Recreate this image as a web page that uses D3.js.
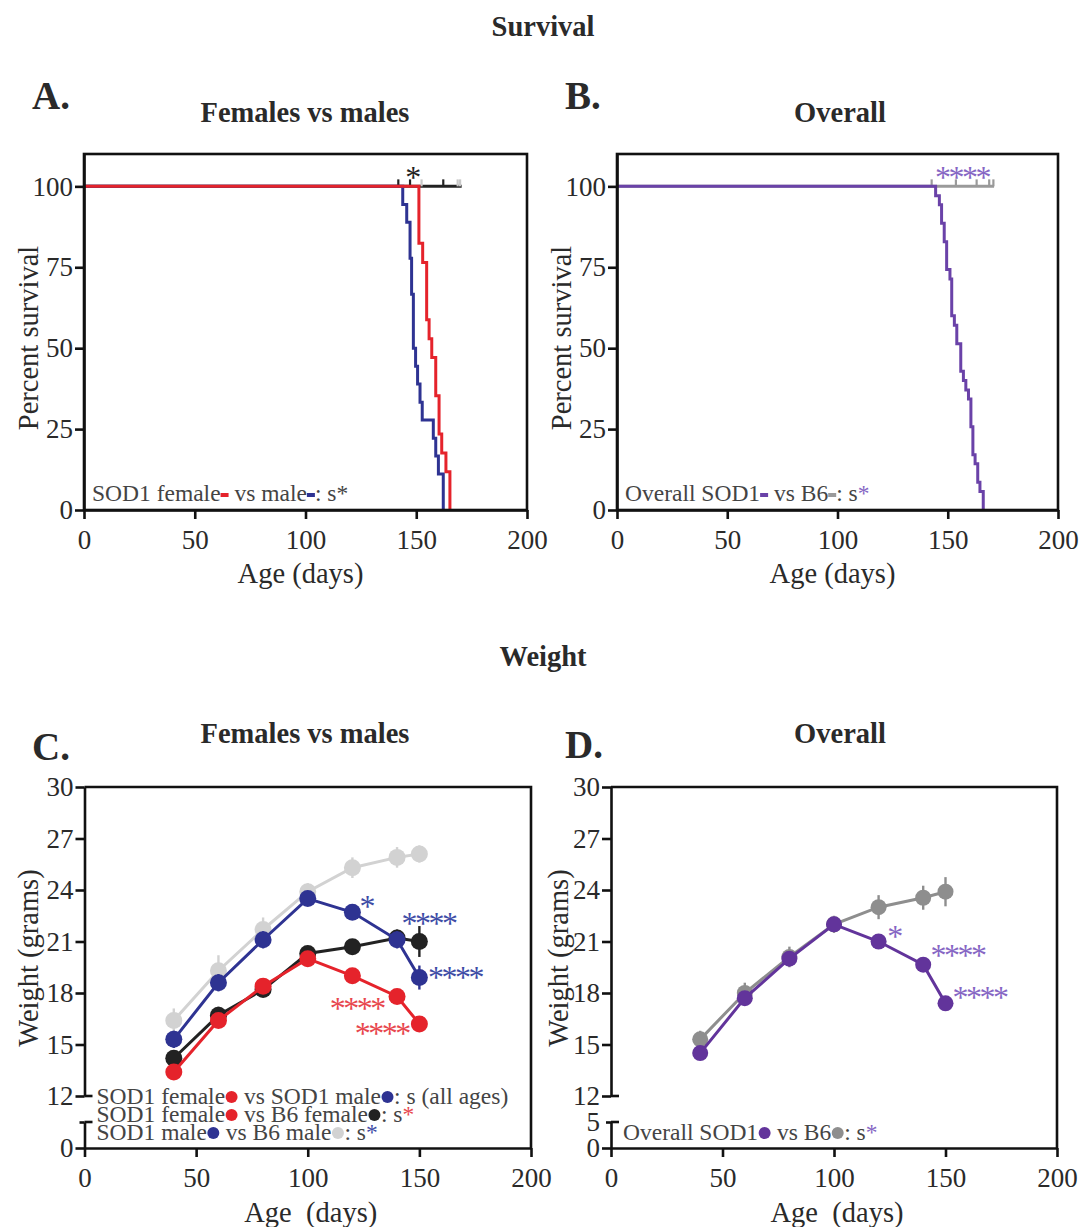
<!DOCTYPE html>
<html><head><meta charset="utf-8">
<script src="https://cdn.jsdelivr.net/npm/d3@7"></script>
<style>
body{margin:0;background:#fff}
svg text{font-family:"Liberation Serif","Times New Roman",serif}
</style>
</head><body>
<svg id="c" width="1085" height="1227" xmlns="http://www.w3.org/2000/svg"></svg>
<script>
// ---------------- DATA ----------------
const survXTicks = [0, 50, 100, 150, 200];
const survYTicks = [0, 25, 50, 75, 100];

// Panel A: Kaplan-Meier steps (day of drop, percent after drop)
const sod1FemaleSurvDays = [151.2, 152.9, 154.7, 155.8, 157.0, 158.8, 160.3, 161.5, 163.4, 165.2];
const sod1FemaleSurvPct  = [82.4, 76.5, 58.8, 52.9, 47.1, 35.3, 23.5, 17.6, 11.8, 0];
const sod1MaleSurvDays = [143.9, 145.7, 147.2, 147.9, 148.7, 149.7, 150.6, 151.7, 152.7, 157.7, 158.8, 160.0, 162.2];
const sod1MaleSurvPct  = [94.4, 88.9, 77.8, 66.7, 50.0, 44.4, 38.9, 33.3, 27.8, 22.2, 16.7, 11.1, 0];
const b6FemaleCensorDays = [141.9, 147.2, 162.2];
const b6MaleCensorDays = [152.4, 168.7, 169.8];
const b6SurvEndDay = 170.5;

// Panel B
const sod1OverallSurvDays = [144.5, 146.2, 147.2, 148.4, 149.5, 151.0, 151.8, 153.0, 154.1, 155.9, 157.1, 158.2, 159.4, 160.5, 161.4, 162.4, 163.6, 164.6, 166.1];
const sod1OverallSurvPct  = [97.1, 94.3, 88.6, 82.9, 74.3, 71.4, 60.0, 57.1, 51.4, 42.9, 40.0, 37.1, 34.3, 25.7, 17.1, 14.3, 8.6, 5.7, 0];
const b6OverallCensorDays = [142.7, 153.7, 163.1, 168.8, 170.7];
const b6OverallEndDay = 171.0;

// Weight
const weightDays = [40, 60, 80, 100, 120, 140, 150];
const weightXTicks = [0, 50, 100, 150, 200];
const weightYTicksUpper = [12, 15, 18, 21, 24, 27, 30];
const weightYTicksLower = [0, 5];

const b6MaleWeight   = [16.4, 19.3, 21.7, 23.9, 25.3, 25.9, 26.1];
const b6MaleErr      = [0.7, 0.9, 0.7, 0.5, 0.6, 0.6, 0.5];
const sod1MaleWeight = [15.3, 18.6, 21.1, 23.5, 22.7, 21.1, 18.9];
const sod1MaleErr    = [0.5, 0.5, 0.5, 0.4, 0.4, 0.5, 0.7];
const b6FemaleWeight = [14.2, 16.7, 18.2, 20.3, 20.7, 21.2, 21.0];
const b6FemaleErr    = [0.4, 0.5, 0.4, 0.4, 0.4, 0.5, 0.9];
const sod1FemaleWeight = [13.4, 16.4, 18.4, 20.0, 19.0, 17.8, 16.2];
const sod1FemaleErr    = [0.4, 0.4, 0.4, 0.4, 0.4, 0.4, 0.4];

const sod1OverallWeight = [14.5, 17.7, 20.0, 22.0, 21.0, 19.65, 17.4];
const sod1OverallErr    = [0.3, 0.3, 0.3, 0.3, 0.3, 0.4, 0.4];
const b6OverallWeight   = [15.3, 18.0, 20.1, 22.0, 23.0, 23.55, 23.9];
const b6OverallErr      = [0.5, 0.6, 0.6, 0.5, 0.7, 0.7, 0.85];

// ---------------- COLORS ----------------
const RED = "#e5232b", BLUE = "#2e3392", BLACK = "#222222", LGREY = "#d2d2d2",
      PURPLE = "#62349b", PURPLE_LINE = "#6a42a8", GREY = "#8e8e8e",
      STAR_RED = "#e8474e", STAR_BLUE = "#3e4ca6", STAR_PURPLE = "#8666c4",
      TXT = "#2a2a2a", LEG = "#444444";

const TICK_FS = 27, TITLE_FS = 28.5, HEAD_FS = 28.5, LEG_FS = 23.5, STAR_FS = 32;

const svg = d3.select("#c");

function text(g, x, y, s, o = {}) {
  const t = g.append("text").attr("x", x).attr("y", y).text(s)
    .attr("font-size", o.size || 26).attr("fill", o.fill || TXT)
    .attr("text-anchor", o.anchor || "start")
    .attr("font-weight", o.bold ? "bold" : "normal")
    .attr("xml:space", "preserve").style("white-space", "pre");
  if (o.ls !== undefined) t.attr("letter-spacing", o.ls);
  if (o.rotate) t.attr("transform", `rotate(${o.rotate},${x},${y})`);
  return t;
}

function star(g, x, y, s, color) {
  // x,y = visual centre of the asterisk group
  return text(g, x, y + 17, s, { size: STAR_FS, fill: color, anchor: "middle", ls: -2.5 });
}

function legend(g, x, y, parts, size) {
  let cx = x;
  parts.forEach(p => {
    if (p.t !== undefined) {
      const t = text(g, cx, y, p.t, { size, fill: p.c || LEG });
      cx += t.node().getComputedTextLength();
    } else if (p.dot) {
      g.append("circle").attr("cx", cx + 6.5).attr("cy", y - 7).attr("r", 6).attr("fill", p.dot);
      cx += 13;
    } else if (p.dash) {
      g.append("rect").attr("x", cx).attr("y", y - 8).attr("width", 8).attr("height", 4).attr("fill", p.dash);
      cx += 8;
    }
  });
}

function styleAxis(sel) {
  sel.selectAll("path.domain").attr("stroke", "#111").attr("stroke-width", 2.6);
  sel.selectAll(".tick line").attr("stroke", "#111").attr("stroke-width", 2.6);
  sel.selectAll(".tick text").attr("font-size", TICK_FS).attr("fill", TXT)
     .attr("font-family", '"Liberation Serif","Times New Roman",serif');
}

// ---------------- SURVIVAL PANELS ----------------
function survivalPanel(cfg) {
  const g = svg.append("g");
  const x = d3.scaleLinear().domain([0, 200]).range([cfg.x0, cfg.x1]);
  const y = d3.scaleLinear().domain([0, 110]).range([cfg.yBot, cfg.yTop]);

  cfg.refLines.forEach(r => {
    g.append("line").attr("x1", x(0)).attr("x2", x(r.end)).attr("y1", y(100)).attr("y2", y(100))
      .attr("stroke", r.color).attr("stroke-width", 3);
    r.ticks.forEach(d => g.append("line").attr("x1", x(d)).attr("x2", x(d))
      .attr("y1", y(100)).attr("y2", y(100) - 7).attr("stroke", r.tickColor || r.color).attr("stroke-width", 2.2));
  });
  const line = d3.line().x(d => x(d[0])).y(d => y(d[1])).curve(d3.curveStepAfter);
  cfg.curves.forEach(c => {
    const pts = [[0, 100]].concat(c.days.map((d, i) => [d, c.pct[i]]));
    g.append("path").attr("d", line(pts)).attr("fill", "none").attr("stroke", c.color)
      .attr("stroke-width", 3).attr("stroke-linejoin", "miter");
  });

  g.append("rect").attr("x", cfg.x0).attr("y", cfg.yTop).attr("width", cfg.x1 - cfg.x0)
    .attr("height", cfg.yBot - cfg.yTop).attr("fill", "none").attr("stroke", "#111").attr("stroke-width", 2.6);

  const xa = g.append("g").attr("transform", `translate(0,${cfg.yBot})`)
    .call(d3.axisBottom(x).tickValues(survXTicks).tickSize(9).tickSizeOuter(0).tickPadding(11));
  styleAxis(xa);
  const ya = g.append("g").attr("transform", `translate(${cfg.x0},0)`)
    .call(d3.axisLeft(y).tickValues(survYTicks).tickSize(9).tickSizeOuter(0).tickPadding(2));
  styleAxis(ya);

  star(g, x(cfg.star.day), y(cfg.star.pct), cfg.star.text, cfg.star.color);

  text(g, (cfg.x0 + cfg.x1) / 2 - 5, cfg.yBot + 73, "Age (days)", { size: TITLE_FS, anchor: "middle" });
  text(g, cfg.yLabelX, (cfg.yTop + cfg.yBot) / 2 + 6, "Percent survival", { size: TITLE_FS, anchor: "middle", rotate: -90 });

  legend(g, cfg.x0 + 8, cfg.yBot - 9, cfg.legend, LEG_FS);
}

survivalPanel({
  x0: 84, x1: 527, yTop: 154, yBot: 510, yLabelX: 38,
  refLines: [
    { end: b6SurvEndDay, color: "#222", ticks: b6FemaleCensorDays },
    { end: 0, color: LGREY, ticks: b6MaleCensorDays, tickColor: "#c8c8c8" }
  ],
  curves: [
    { days: sod1MaleSurvDays, pct: sod1MaleSurvPct, color: BLUE },
    { days: sod1FemaleSurvDays, pct: sod1FemaleSurvPct, color: RED }
  ],
  star: { day: 148.1, pct: 104.9, text: "*", color: "#222" },
  legend: [{ t: "SOD1 female" }, { dash: RED }, { t: " vs male" }, { dash: BLUE }, { t: ": s*" }]
});

survivalPanel({
  x0: 617, x1: 1058, yTop: 154, yBot: 510, yLabelX: 571,
  refLines: [
    { end: b6OverallEndDay, color: "#9a9a9a", ticks: b6OverallCensorDays }
  ],
  curves: [
    { days: sod1OverallSurvDays, pct: sod1OverallSurvPct, color: PURPLE_LINE }
  ],
  star: { day: 156.5, pct: 104.9, text: "****", color: STAR_PURPLE },
  legend: [{ t: "Overall SOD1" }, { dash: PURPLE_LINE }, { t: " vs B6" }, { dash: "#9a9a9a" }, { t: ": s" }, { t: "*", c: STAR_PURPLE }]
});

// ---------------- WEIGHT PANELS ----------------
function weightPanel(cfg) {
  const g = svg.append("g");
  const x = d3.scaleLinear().domain([0, 200]).range([cfg.x0, cfg.x1]);
  const yU = d3.scaleLinear().domain([12, 30]).range([1096, 787]);
  const yL = d3.scaleLinear().domain([0, 5]).range([1148, 1122]);

  g.append("path").attr("d", `M${cfg.x0},${yU(30)}H${cfg.x1}V${yL(0)}`)
    .attr("fill", "none").attr("stroke", "#111").attr("stroke-width", 2.6);

  const ya = g.append("g").attr("transform", `translate(${cfg.x0},0)`)
    .call(d3.axisLeft(yU).tickValues(weightYTicksUpper).tickSize(9).tickSizeOuter(0).tickPadding(2));
  styleAxis(ya);
  g.append("line").attr("x1", cfg.x0).attr("x2", cfg.x0 + 8).attr("y1", yU(12)).attr("y2", yU(12))
    .attr("stroke", "#111").attr("stroke-width", 2.6);
  const yl = g.append("g").attr("transform", `translate(${cfg.x0},0)`)
    .call(d3.axisLeft(yL).tickValues(weightYTicksLower).tickSize(9).tickSizeOuter(0).tickPadding(2)
      .tickFormat(d => (d === 0 || cfg.label5) ? d : ""));
  styleAxis(yl);
  yl.selectAll(".tick").filter(d => d === 5).select("line").attr("x2", -5);
  g.append("line").attr("x1", cfg.x0).attr("x2", cfg.x0 + 8).attr("y1", yL(5)).attr("y2", yL(5))
    .attr("stroke", "#111").attr("stroke-width", 2.6);

  const xa = g.append("g").attr("transform", `translate(0,${yL(0)})`)
    .call(d3.axisBottom(x).tickValues(weightXTicks).tickSize(9).tickSizeOuter(0).tickPadding(11));
  styleAxis(xa);

  const line = d3.line().x((d, i) => x(weightDays[i])).y(d => yU(d));
  cfg.series.forEach(s => {
    const sg = g.append("g");
    s.values.forEach((v, i) => sg.append("line")
      .attr("x1", x(weightDays[i])).attr("x2", x(weightDays[i]))
      .attr("y1", yU(v - s.err[i])).attr("y2", yU(v + s.err[i]))
      .attr("stroke", s.color).attr("stroke-width", 2.4));
    sg.append("path").attr("d", line(s.values)).attr("fill", "none")
      .attr("stroke", s.color).attr("stroke-width", 3);
    sg.selectAll("circle").data(s.values).join("circle")
      .attr("cx", (d, i) => x(weightDays[i])).attr("cy", d => yU(d)).attr("r", cfg.r).attr("fill", s.color);
  });

  cfg.stars.forEach(st => star(g, x(st.day), yU(st.w), st.text, st.color));

  text(g, (cfg.x0 + cfg.x1) / 2 + 3, 1222, "Age  (days)", { size: TITLE_FS, anchor: "middle" });
  text(g, cfg.yLabelX, 958, "Weight (grams)", { size: TITLE_FS, anchor: "middle", rotate: -90 });

  cfg.legend.forEach((l, i) => legend(g, cfg.x0 + cfg.legDx, 1104 + (l.row !== undefined ? l.row : i) * 18, l.parts, LEG_FS));
}

weightPanel({
  x0: 84.5, x1: 531, yLabelX: 38, r: 8.5, label5: false, legDx: 12,
  series: [
    { values: b6MaleWeight, err: b6MaleErr, color: LGREY },
    { values: b6FemaleWeight, err: b6FemaleErr, color: BLACK },
    { values: sod1FemaleWeight, err: sod1FemaleErr, color: RED },
    { values: sod1MaleWeight, err: sod1MaleErr, color: BLUE }
  ],
  stars: [
    { day: 126.2, w: 23.4, text: "*", color: STAR_BLUE },
    { day: 154.1, w: 22.4, text: "****", color: STAR_BLUE },
    { day: 166.0, w: 19.3, text: "****", color: STAR_BLUE },
    { day: 121.9, w: 17.5, text: "****", color: STAR_RED },
    { day: 133.1, w: 16.0, text: "****", color: STAR_RED }
  ],
  legend: [
    { parts: [{ t: "SOD1 female" }, { dot: RED }, { t: " vs SOD1 male" }, { dot: BLUE }, { t: ": s (all ages)" }] },
    { parts: [{ t: "SOD1 female" }, { dot: RED }, { t: " vs B6 female" }, { dot: BLACK }, { t: ": s" }, { t: "*", c: STAR_RED }] },
    { parts: [{ t: "SOD1 male" }, { dot: BLUE }, { t: " vs B6 male" }, { dot: LGREY }, { t: ": s" }, { t: "*", c: STAR_BLUE }] }
  ]
});

weightPanel({
  x0: 611, x1: 1057, yLabelX: 568, r: 8, label5: true, legDx: 12,
  series: [
    { values: b6OverallWeight, err: b6OverallErr, color: GREY },
    { values: sod1OverallWeight, err: sod1OverallErr, color: PURPLE }
  ],
  stars: [
    { day: 126.9, w: 21.66, text: "*", color: STAR_PURPLE },
    { day: 155.4, w: 20.56, text: "****", color: STAR_PURPLE },
    { day: 165.2, w: 18.12, text: "****", color: STAR_PURPLE }
  ],
  legend: [
    { row: 2, parts: [{ t: "Overall SOD1" }, { dot: PURPLE }, { t: " vs B6" }, { dot: GREY }, { t: ": s" }, { t: "*", c: STAR_PURPLE }] }
  ]
});

// ---------------- HEADINGS ----------------
const H = svg.append("g");
text(H, 543, 36, "Survival", { size: HEAD_FS, bold: true, anchor: "middle" });
text(H, 32, 109, "A.", { size: 39, bold: true });
text(H, 565, 109, "B.", { size: 39, bold: true });
text(H, 305, 122, "Females vs males", { size: HEAD_FS, bold: true, anchor: "middle" });
text(H, 840, 122, "Overall", { size: HEAD_FS, bold: true, anchor: "middle" });
text(H, 543, 666, "Weight", { size: HEAD_FS, bold: true, anchor: "middle" });
text(H, 32, 760, "C.", { size: 39, bold: true });
text(H, 565, 758, "D.", { size: 39, bold: true });
text(H, 305, 743, "Females vs males", { size: HEAD_FS, bold: true, anchor: "middle" });
text(H, 840, 743, "Overall", { size: HEAD_FS, bold: true, anchor: "middle" });
</script>
</body></html>
